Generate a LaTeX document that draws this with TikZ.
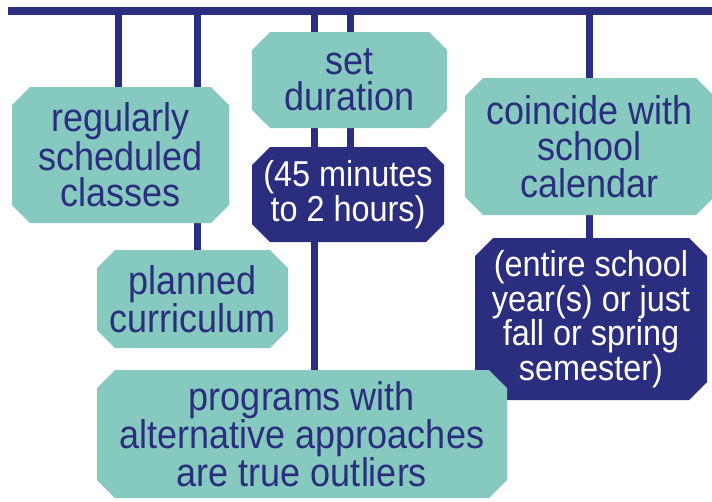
\documentclass[tikz,border=0pt]{standalone}
\usepackage{fontspec}
\setmainfont{Liberation Sans}
\newfontfamily\boxfont[FakeStretch=0.9]{Liberation Sans}
\usepackage{xcolor}
\usetikzlibrary{positioning,shapes.misc,backgrounds}

\definecolor{tealbox}{RGB}{134,201,191}
\definecolor{navy}{RGB}{43,46,126}

\tikzset{
  box/.style={chamfered rectangle, chamfered rectangle xsep=9pt,
    chamfered rectangle ysep=9pt, inner sep=0pt, align=center},
  lightbox/.style={box, fill=tealbox, text=navy,
    font=\boxfont\fontsize{40}{36.5}\selectfont},
  darkbox/.style={box, fill=navy, text=white,
    font=\boxfont\fontsize{36}{32}\selectfont},
  bar/.style={navy, line width=8pt},
  tap/.style={navy, line width=7pt}
}

\begin{document}
\begin{tikzpicture}[x=1pt,y=-1pt]
\useasboundingbox (0,0) rectangle (712,501);
\node[lightbox, minimum width=217pt, minimum height=136pt] (reg) at (120.5,155) {regularly\\scheduled\\classes};
\node[lightbox, minimum width=191pt, minimum height=98pt] (plan) at (192.5,299) {planned\\curriculum};
\node[lightbox, minimum width=195pt, minimum height=96pt] (dur) at (349.5,80) {set\\duration};
\node[darkbox, minimum width=192pt, minimum height=95pt] (mins) at (348,194.5) {(45 minutes\\to 2 hours)};
\node[lightbox, minimum width=249pt, minimum height=137pt] (cal) at (589.5,146.5) {coincide with\\school\\calendar};
\node[darkbox, minimum width=232pt, minimum height=162pt] (year) at (591,319) {(entire school\\year(s) or just\\fall or spring\\semester)};
\node[lightbox, minimum width=410pt, minimum height=128pt] (alt) at (302,434) {programs with\\alternative approaches\\are true outliers};
\begin{pgfonlayer}{background}
\coordinate (barL) at (8,11);
\coordinate (barR) at (716,11);
\coordinate (tapA) at (118,11);
\coordinate (tapB) at (197,11);
\coordinate (tapC) at (314,11);
\coordinate (tapD) at (350,11);
\coordinate (tapE) at (589,11);
\draw[bar] (barL) -- (barR);
\draw[tap] (tapA) -- (tapA |- reg.north);
\draw[tap] (tapB) -- (tapB |- plan.north);
\draw[tap] (tapC) -- (tapC |- alt.north);
\draw[tap] (tapD) -- (tapD |- mins.north);
\draw[tap] (tapE) -- (tapE |- year.north);
\end{pgfonlayer}
\end{tikzpicture}
\end{document}
